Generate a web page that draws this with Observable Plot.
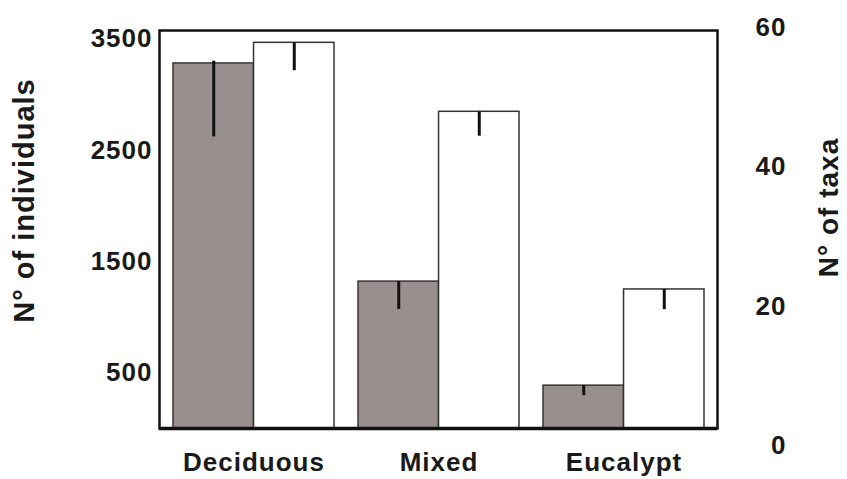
<!DOCTYPE html>
<html>
<head>
<meta charset="utf-8">
<script src="https://cdn.jsdelivr.net/npm/d3@7"></script>
<script src="https://cdn.jsdelivr.net/npm/@observablehq/plot@0.6"></script>
<style>
  html, body { margin: 0; padding: 0; background: #fff; }
</style>
</head>
<body>
<div id="chart"></div>
<script>
const categories = ["Deciduous", "Mixed", "Eucalypt"];
const individuals = [3280, 1320, 385];
const individualsLow = [2620, 1070, 295];
const individualsHigh = [3300, 1320, 385];
const taxa = [57.8, 47.9, 22.4];
const taxaLow = [53.8, 44.4, 19.5];
const individualTicks = [500, 1500, 2500, 3500];
const taxaTicks = [0, 20, 40, 60];

// secondary (taxa) axis expressed in units of the primary (individuals) axis
const taxaToInd = t => t * 62.6 - 153;

const rows = categories.map((c, i) => ({
  cat: c,
  ind: individuals[i],
  indLow: individualsLow[i],
  indHigh: individualsHigh[i],
  taxa: taxa[i],
  taxaLow: taxaLow[i]
}));

const W = 847, H = 479;
const margin = {left: 159, right: 130, top: 30, bottom: 51};
const xOpts = {domain: categories, paddingInner: 0.13, paddingOuter: 0.072};
const bw = Plot.scale({x: {type: "band", ...xOpts, range: [margin.left, W - margin.right]}}).bandwidth;

const ink = "#1a1a1a";

const chart = Plot.plot({
  width: W,
  height: H,
  marginLeft: margin.left,
  marginRight: margin.right,
  marginTop: margin.top,
  marginBottom: margin.bottom,
  style: {
    fontFamily: "'Liberation Sans', Arial, sans-serif",
    fontWeight: "bold",
    fontSize: "26px",
    letterSpacing: "1px",
    color: ink,
    background: "#fff"
  },
  x: {...xOpts, axis: null},
  y: {domain: [0, 3576], axis: null},
  marks: [
    Plot.barY(rows, {x: "cat", y1: 0, y2: "ind", fill: "#998f8f", stroke: "#3a3434", strokeWidth: 1.5, insetRight: bw / 2}),
    Plot.barY(rows, {x: "cat", y1: 0, y2: d => taxaToInd(d.taxa), fill: "#fff", stroke: "#333", strokeWidth: 1.5, insetLeft: bw / 2}),
    Plot.ruleX(rows, {x: "cat", y1: "indLow", y2: "indHigh", dx: -bw / 4, stroke: "#111", strokeWidth: 3}),
    Plot.ruleX(rows, {x: "cat", y1: d => taxaToInd(d.taxaLow), y2: d => taxaToInd(d.taxa), dx: bw / 4, stroke: "#111", strokeWidth: 3}),
    Plot.frame({stroke: "#111", strokeWidth: 2.5}),
    Plot.ruleY([0], {stroke: "#111", strokeWidth: 3.5}),
    Plot.axisY({ticks: individualTicks, tickFormat: d => String(d), tickSize: 0, tickPadding: 7, label: null, fill: ink, fontSize: 26}),
    Plot.text(taxaTicks, {y: taxaToInd, text: d => String(d), frameAnchor: "right", dx: 69, textAnchor: "end", fill: ink, fontSize: 26}),
    Plot.axisX({tickSize: 0, tickPadding: 24, label: null, fill: ink, fontSize: 26}),
    Plot.text(["N° of individuals"], {frameAnchor: "left", dx: -135, dy: -29, rotate: -90, textAnchor: "middle", fontSize: 29, fill: ink}),
    Plot.text(["N° of taxa"], {frameAnchor: "right", dx: 112, dy: -22, rotate: -90, textAnchor: "middle", fontSize: 28, fill: ink})
  ]
});

document.getElementById("chart").appendChild(chart);
</script>
</body>
</html>
